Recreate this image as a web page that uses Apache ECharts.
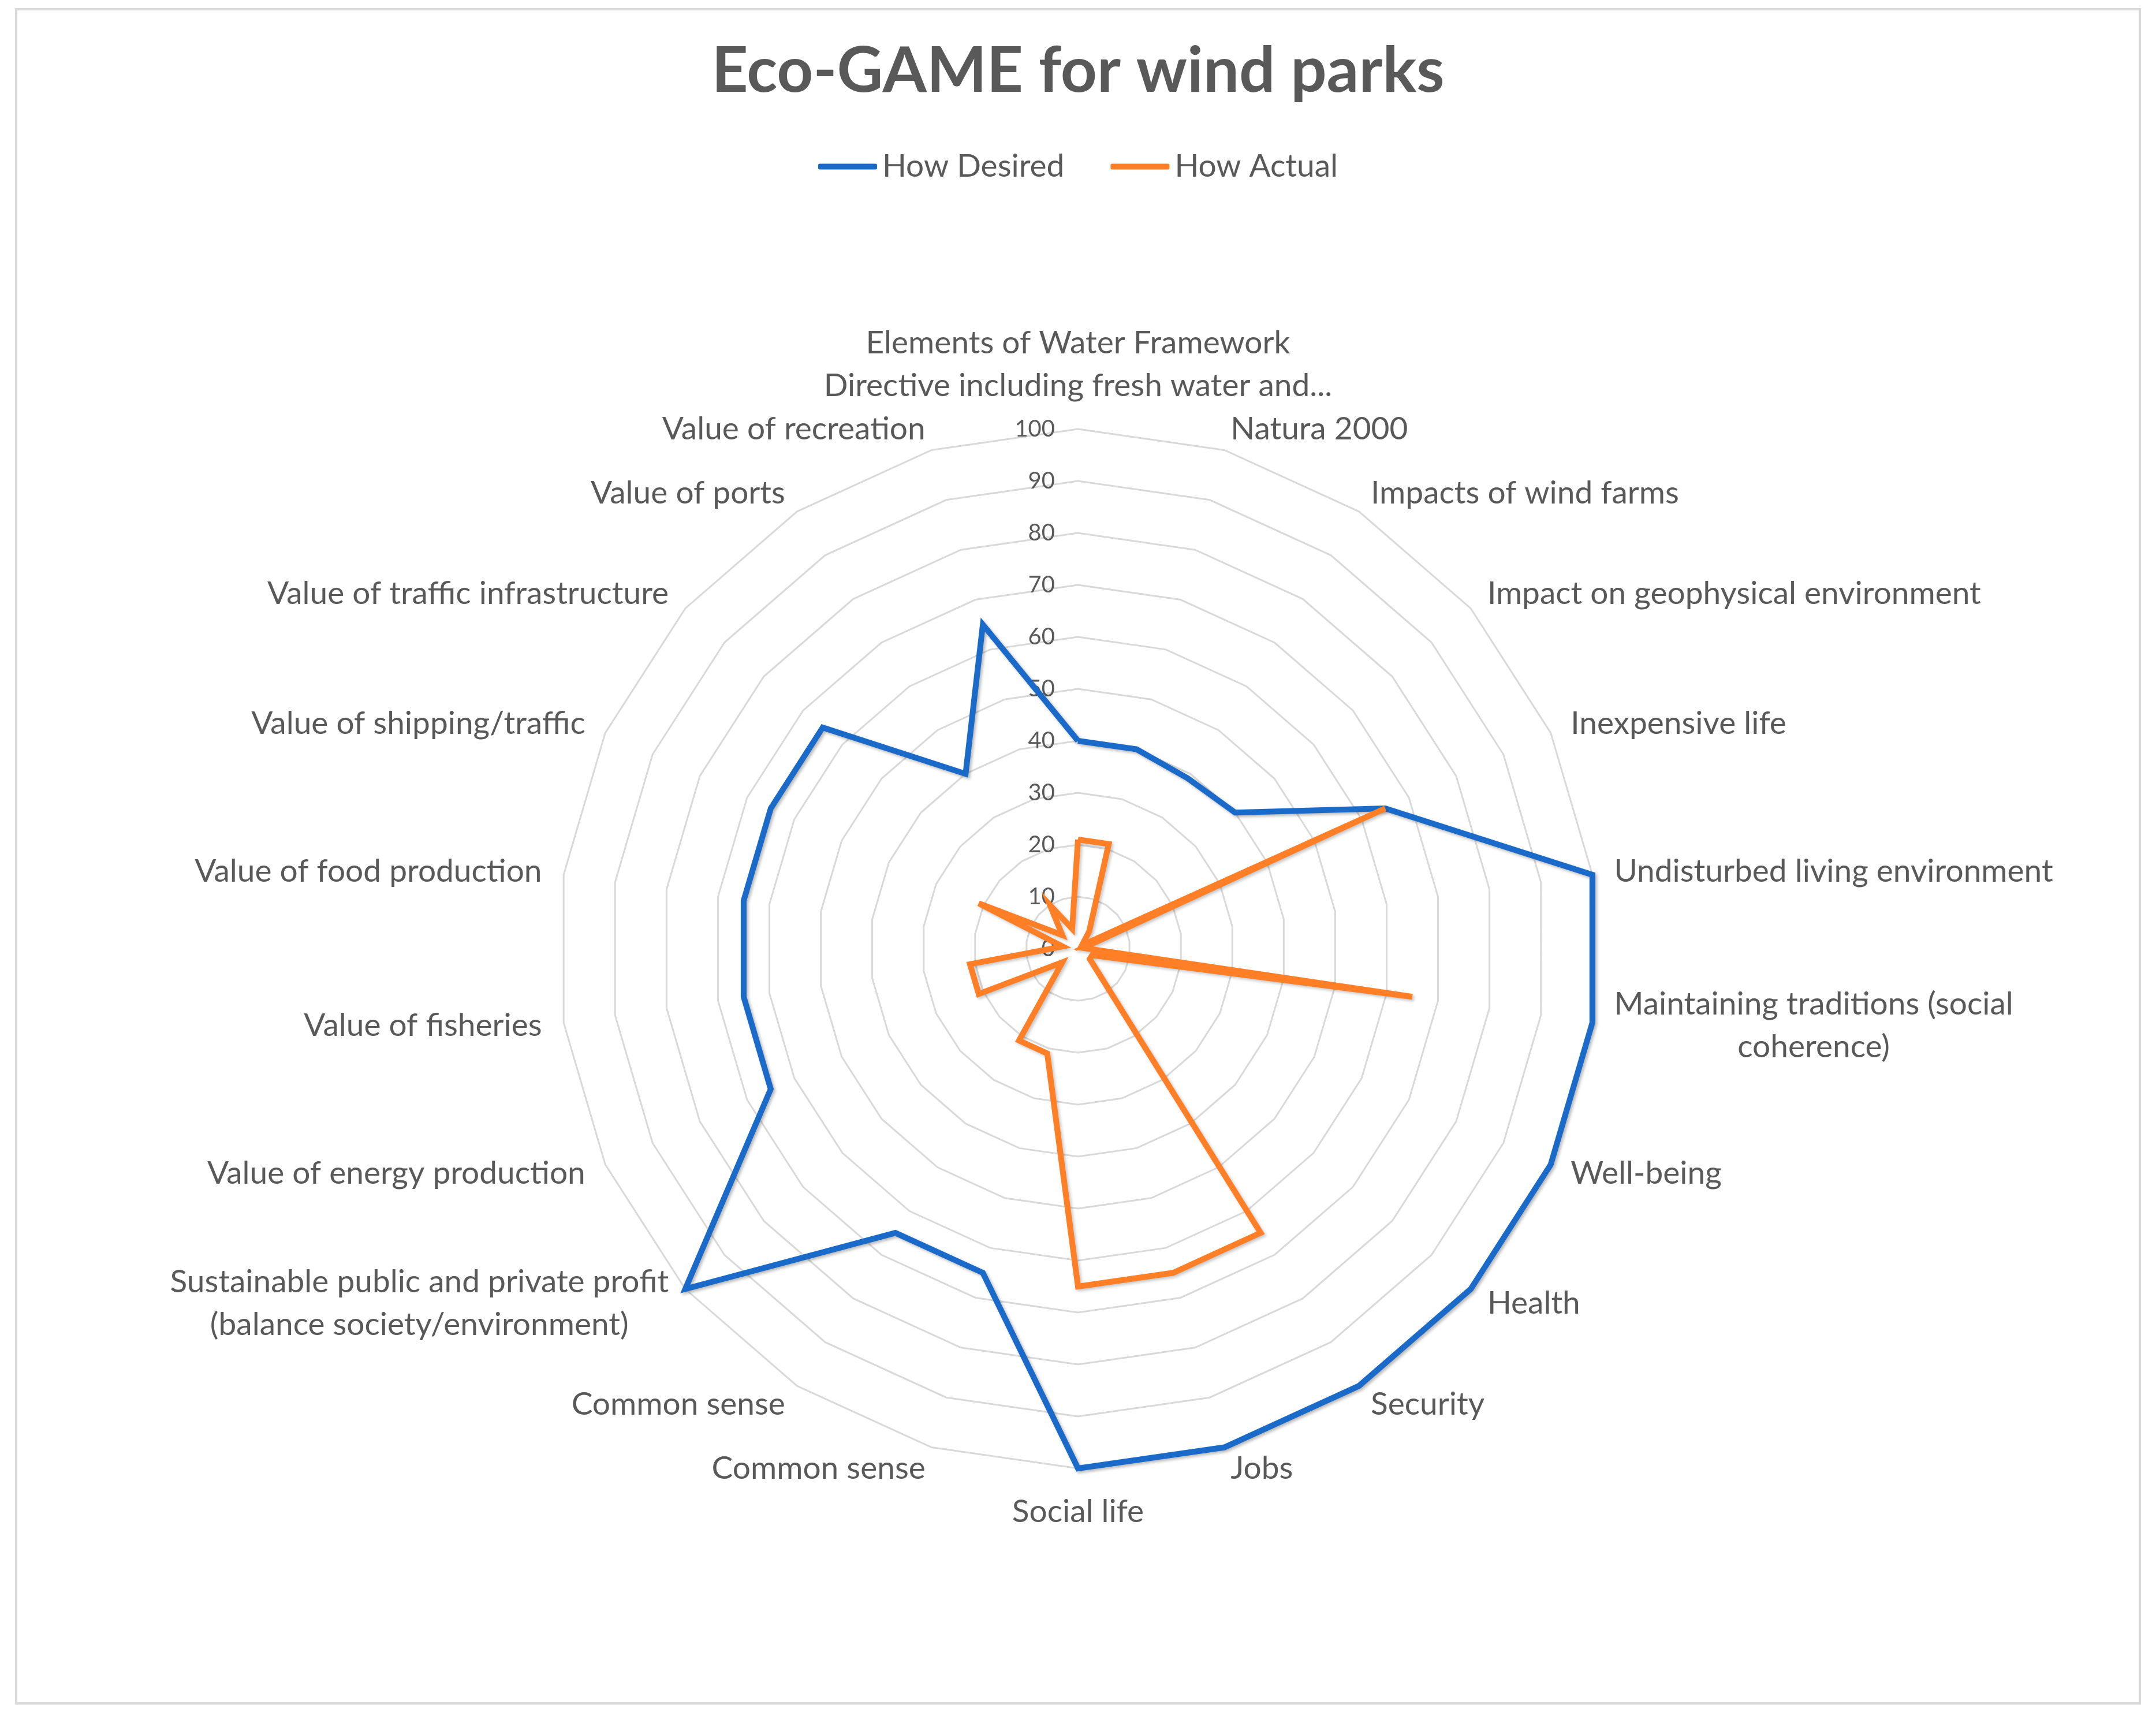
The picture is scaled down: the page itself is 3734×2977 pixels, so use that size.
<!DOCTYPE html>
<html>
<head>
<meta charset="utf-8">
<script src="https://cdn.jsdelivr.net/npm/echarts@6/dist/echarts.min.js"></script>
<style>
html,body{margin:0;padding:0;background:#ffffff;}
#chart{width:3734px;height:2977px;}
</style>
</head>
<body>
<div id="chart"></div>
<script>
// ---- data (listed clockwise from the top, as in the picture) ----
const indicatorNames = [
  "Elements of Water Framework\nDirective including fresh water and...",
  "Natura 2000",
  "Impacts of wind farms",
  "Impact on geophysical environment",
  "Inexpensive life",
  "Undisturbed living environment",
  "Maintaining traditions (social\ncoherence)",
  "Well-being",
  "Health",
  "Security",
  "Jobs",
  "Social life",
  "Common sense",
  "Common sense",
  "Sustainable public and private profit\n(balance society/environment)",
  "Value of energy production",
  "Value of fisheries",
  "Value of food production",
  "Value of shipping/traffic",
  "Value of traffic infrastructure",
  "Value of ports",
  "Value of recreation"
];
const desiredValues = [40, 40, 39, 40, 65, 100, 100, 100, 100, 100, 100, 100, 65, 65, 100, 65, 65, 65, 65, 65, 40, 65];
const actualValues  = [21, 21, 4, 1, 65, 1, 65, 3, 3, 65, 65, 65, 21, 21, 4, 21, 21, 3, 21, 4, 10, 4];
const seriesNames = ["How Desired", "How Actual"];
const titleText = "Eco-GAME for wind parks";
const axisMin = 0;
const axisMax = 100;
const axisInterval = 10;

// ---- chart ----
const FONT = "Lato";
const TEXT = "#595959";
const COLORS = ["#1a6ac9", "#ff7f27"];

// ECharts lays radar axes counter-clockwise; the picture runs clockwise,
// so keep the first axis at the top and walk the rest in reverse.
const order = [0];
for (let i = indicatorNames.length - 1; i >= 1; i--) order.push(i);
function clockwise(arr) { return order.map(function (i) { return arr[i]; }); }

const chart = echarts.init(document.getElementById("chart"), null, {renderer: "canvas"});

const option = {
  backgroundColor: "#ffffff",
  color: COLORS,
  animation: false,
  graphic: [{
    type: "rect",
    shape: {x: 28, y: 16, width: 3678, height: 2934},
    style: {fill: "none", stroke: "#d9d9d9", lineWidth: 4},
    silent: true
  }],
  title: {
    text: titleText,
    left: "center",
    top: 64,
    textStyle: {fontFamily: FONT, fontSize: 110, fontWeight: "bold", color: TEXT}
  },
  legend: {
    data: seriesNames,
    top: 256,
    left: "center",
    icon: "roundRect",
    itemWidth: 102,
    itemHeight: 10,
    itemGap: 80,
    textStyle: {fontFamily: FONT, fontSize: 55, color: TEXT, padding: [0, 0, 0, 4]}
  },
  radar: {
    center: [1867, 1643],
    radius: 900,
    startAngle: 90,
    shape: "polygon",
    splitNumber: (axisMax - axisMin) / axisInterval,
    nameGap: 38,
    indicator: clockwise(indicatorNames).map(function (n, i) {
      const ind = {name: n, min: axisMin, max: axisMax};
      if (i === 0) ind.axisLabel = {show: true};
      return ind;
    }),
    axisName: {
      color: TEXT,
      fontFamily: FONT,
      fontSize: 55,
      lineHeight: 74,
      formatter: function (name) {
        return name.split("\n").map(function (l) { return "{c|" + l + "}"; }).join("\n");
      },
      rich: {
        c: {align: "center", color: TEXT, fontFamily: FONT, fontSize: 55, lineHeight: 74}
      }
    },
    axisLine: {show: false},
    axisTick: {show: false},
    axisLabel: {show: false, color: TEXT, fontFamily: FONT, fontSize: 40, margin: 40},
    splitLine: {lineStyle: {color: "#d9d9d9", width: 3}},
    splitArea: {show: false}
  },
  series: [{
    type: "radar",
    symbol: "none",
    data: [
      {
        name: seriesNames[0],
        value: clockwise(desiredValues),
        itemStyle: {color: COLORS[0]},
        lineStyle: {color: COLORS[0], width: 10, join: "miter",
          shadowColor: "rgba(0,0,0,0.28)", shadowBlur: 5, shadowOffsetX: 3, shadowOffsetY: 3}
      },
      {
        name: seriesNames[1],
        value: clockwise(actualValues),
        itemStyle: {color: COLORS[1]},
        lineStyle: {color: COLORS[1], width: 10, join: "miter",
          shadowColor: "rgba(0,0,0,0.22)", shadowBlur: 5, shadowOffsetX: 3, shadowOffsetY: 3}
      }
    ]
  }]
};

chart.setOption(option);
</script>
</body>
</html>
